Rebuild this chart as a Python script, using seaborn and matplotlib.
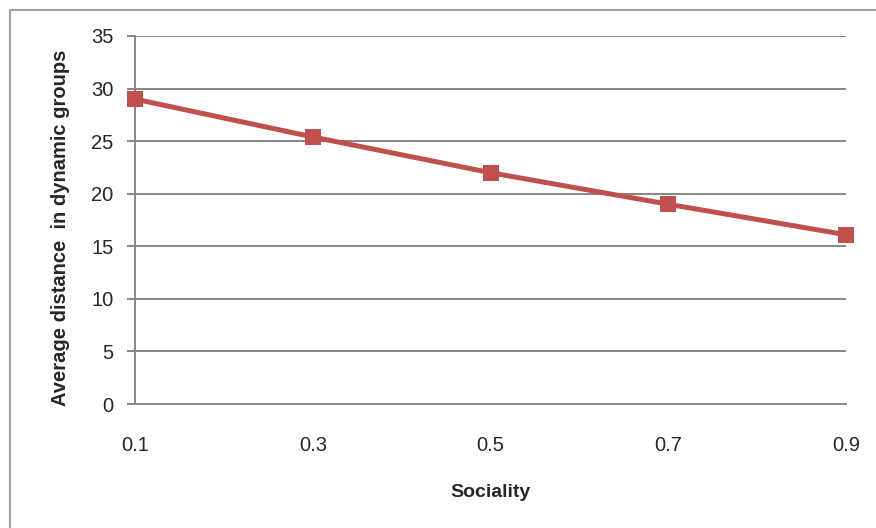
import matplotlib
matplotlib.use('Agg')
import matplotlib.pyplot as plt
import seaborn as sns
import pandas as pd
from matplotlib.lines import Line2D

# 数据
sociality = [0.1, 0.3, 0.5, 0.7, 0.9]
distance = [29.0, 25.4, 22.0, 19.0, 16.1]
tick_labels = ['0.1', '0.3', '0.5', '0.7', '0.9']

sns.set_style('white')
plt.rcParams['font.family'] = ['Liberation Sans', 'DejaVu Sans']

df = pd.DataFrame({'Sociality': sociality, 'Distance': distance})

fig = plt.figure(figsize=(8.76, 5.28), dpi=100)
ax = fig.add_axes([135 / 876, 1 - 404 / 528, (846 - 135) / 876, (404 - 36) / 528])

sns.lineplot(x='Sociality', y='Distance', data=df, ax=ax, color='#C0504D',
             linewidth=3.6, marker='s', markersize=12, markeredgewidth=0,
             clip_on=False, zorder=5)

ax.set_xlim(0.1, 0.9)
ax.set_ylim(0, 35)
ax.set_yticks(range(0, 36, 5))
ax.set_xticks(sociality)
ax.set_xticklabels(tick_labels)
ax.yaxis.grid(True, color='#868686', linewidth=1.4)
ax.xaxis.grid(False)
ax.set_axisbelow(True)

for side in ['top', 'right']:
    ax.spines[side].set_visible(False)
for side in ['left', 'bottom']:
    ax.spines[side].set_color('#868686')
    ax.spines[side].set_linewidth(1.4)

ax.tick_params(axis='y', length=5.5, width=1.4, color='#868686', pad=10, labelsize=14.5, left=True)
ax.tick_params(axis='x', length=0, pad=23, labelsize=14.5)

ax.set_xlabel('Sociality', fontsize=14, fontweight='bold', labelpad=21)
ax.set_ylabel('Average distance  in dynamic groups', fontsize=14.5, fontweight='bold')
ax.yaxis.set_label_coords(-65 / 711, 0.48)

# 外框 (只看得到上边和左边)
fig.add_artist(Line2D([9.5 / 876, 9.5 / 876], [0, 1 - 9.5 / 528], color='#A0A0A0', linewidth=1.5))
fig.add_artist(Line2D([9.5 / 876, 1], [1 - 9.5 / 528, 1 - 9.5 / 528], color='#A0A0A0', linewidth=1.5))

fig.savefig('out.png', dpi=100)
